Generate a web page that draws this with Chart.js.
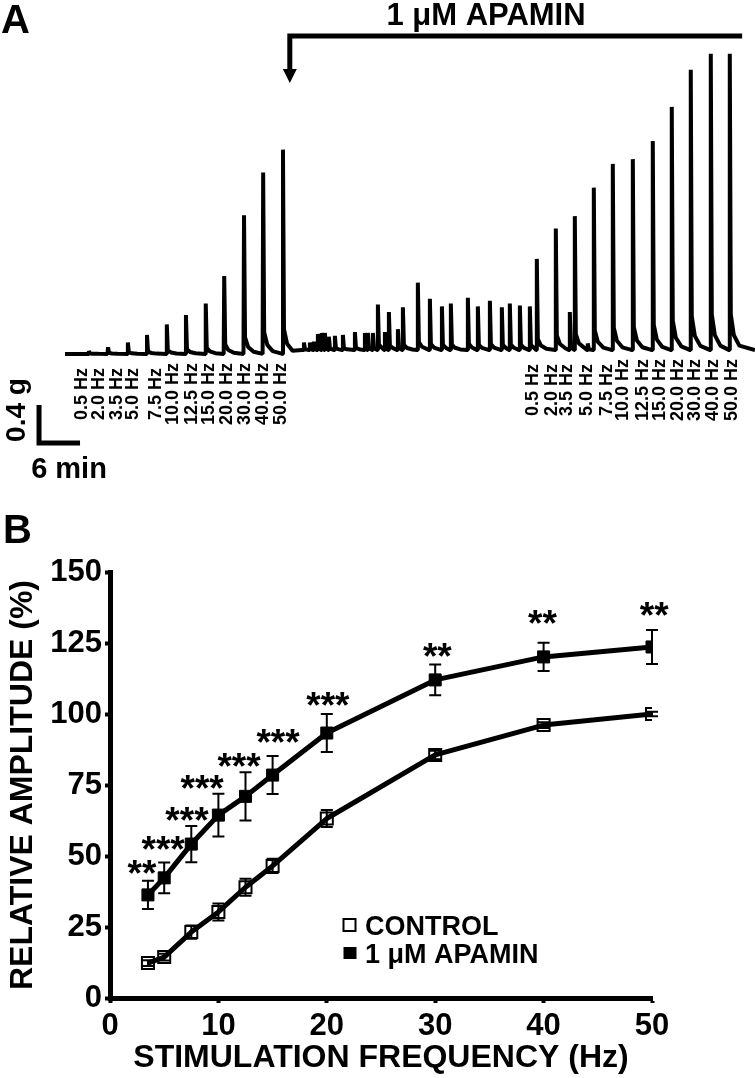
<!DOCTYPE html>
<html>
<head>
<meta charset="utf-8">
<script src="https://cdn.jsdelivr.net/npm/chart.js@4.4.1/dist/chart.umd.min.js"></script>
<style>
  html, body { margin: 0; padding: 0; background: #fff; }
  #wrap { position: relative; width: 755px; height: 1078px; }
  #traceChart { position: absolute; left: 0; top: 0; }
  #freqChart { position: absolute; left: 0; top: 480px; }
</style>
</head>
<body>
<div id="wrap">
  <canvas id="traceChart" width="755" height="480"></canvas>
  <canvas id="freqChart" width="755" height="598"></canvas>
</div>
<script>
// ---- panel A : isometric force trace (time in min, force in g) ----
var controlPeakTime = [3.5, 6.3, 9.2, 12.0, 14.9, 17.7, 20.6, 23.3, 26.2, 29.0, 31.9];
var controlPeakAmp  = [0.03, 0.07, 0.12, 0.20, 0.31, 0.41, 0.53, 0.82, 1.46, 1.91, 2.15];
var apaminPeakTime = [34.97, 35.84, 36.43, 37.01, 37.6, 38.04, 38.62, 39.5, 40.67, 42.43,
                      43.89, 44.33, 45.06, 45.79, 46.82, 47.4, 48.72, 49.45, 51.64, 53.4,
                      55.16, 56.47, 58.96, 60.42, 62.18, 63.93, 65.1, 66.57, 68.03, 69.05,
                      71.83, 73.88, 74.61, 76.51, 77.39, 80.17, 83.1, 86.02, 88.8, 91.58,
                      94.51, 97.29];
var apaminPeakAmp  = [0.08, 0.08, 0.09, 0.17, 0.18, 0.18, 0.14, 0.15, 0.16, 0.19,
                      0.18, 0.18, 0.18, 0.48, 0.19, 0.40, 0.22, 0.45, 0.71, 0.54,
                      0.46, 0.49, 0.55, 0.46, 0.52, 0.45, 0.49, 0.47, 0.46, 0.96,
                      1.28, 0.40, 1.41, 0.07, 1.71, 1.96, 2.01, 2.20, 2.56, 2.95,
                      3.12, 3.12];
var controlBase = -0.02;
var apaminBase = 0.02;
var traceEnd = 100.98;
var apaminOn = 32.9;
var apaminOff = 99.1;
var freqLabels = ['0.5 Hz', '2.0 Hz', '3.5 Hz', '5.0 Hz', '7.5 Hz', '10.0 Hz',
                  '12.5 Hz', '15.0 Hz', '20.0 Hz', '30.0 Hz', '40.0 Hz', '50.0 Hz'];
var controlLabelTime = [2.49, 4.98, 7.61, 9.95, 13.32, 15.8, 18.59, 21.07, 23.71, 26.34, 28.98, 31.61];
var apaminLabelTime  = [68.49, 71.27, 73.46, 76.39, 79.32, 81.66, 84.59, 87.07, 89.71, 92.2, 94.83, 97.61];
var barTime = 6;    // min
var barForce = 0.4; // g

// ---- panel B : frequency-response curves ----
var freqHz      = [3.5, 5, 7.5, 10, 12.5, 15, 20, 30, 40, 50];
var controlMean = [12.3, 14.4, 23.2, 30.3, 39.0, 46.5, 63.2, 85.6, 96.1, 100];
var controlSem  = [1.0, 1.2, 2.3, 3.0, 3.0, 2.5, 3.0, 1.5, 1.0, 0.8];
var apaminMean  = [36.3, 42.3, 54.2, 64.4, 71.0, 78.5, 93.3, 112.0, 120.1, 123.6];
var apaminSem   = [5.0, 5.4, 6.4, 7.5, 8.5, 6.7, 6.7, 5.4, 5.0, 6.0];
var sigText = ['**', '***', '***', '***', '***', '***', '***', '**', '**', '**'];
var sigX    = [2.95, 4.9, 7.1, 8.5, 11.9, 15.5, 20.1, 30.2, 39.9, 50.2];
var sigY    = [46.8, 55.3, 65.5, 76.8, 84.5, 93.0, 106.0, 123.2, 134.9, 137.7];

var FONT = '"Liberation Sans", Arial, Helvetica, sans-serif';
Chart.defaults.font.family = FONT;
Chart.defaults.color = '#000';

// build the trace vertices from the peak list
function addPeaks(pts, times, amps, base, nextStart) {
  for (var i = 0; i < times.length; i++) {
    var t = times[i], h = amps[i];
    var next = i < times.length - 1 ? times[i + 1] : nextStart;
    pts.push({x: t - 0.08, y: base});
    pts.push({x: t, y: base + h});
    pts.push({x: t + 0.15, y: base + 0.12 * h});
    if (next - t > 1.0) pts.push({x: t + 0.6, y: base + 0.05 * h});
    if (next - t > 2.0) pts.push({x: t + 1.4, y: base + 0.015 * h});
  }
}
var tracePoints = [{x: 0, y: controlBase}];
addPeaks(tracePoints, controlPeakTime, controlPeakAmp, controlBase, apaminPeakTime[0]);
tracePoints.push({x: apaminPeakTime[0] - 0.3, y: apaminBase});
addPeaks(tracePoints, apaminPeakTime, apaminPeakAmp, apaminBase, traceEnd);
tracePoints.push({x: traceEnd, y: apaminBase});

var traceDecor = {
  id: 'traceDecor',
  afterDraw: function(chart) {
    var ctx = chart.ctx, xs = chart.scales.x, ys = chart.scales.y;
    ctx.save();
    ctx.fillStyle = '#000';
    ctx.strokeStyle = '#000';

    ctx.font = 'bold 40px ' + FONT;
    ctx.textAlign = 'left';
    ctx.textBaseline = 'alphabetic';
    ctx.fillText('A', 1, 33);

    // apamin bracket and arrow
    var x0 = xs.getPixelForValue(apaminOn), x1 = xs.getPixelForValue(apaminOff);
    ctx.lineWidth = 5;
    ctx.lineJoin = 'miter';
    ctx.beginPath();
    ctx.moveTo(x0, 71);
    ctx.lineTo(x0, 36);
    ctx.lineTo(x1, 36);
    ctx.stroke();
    ctx.beginPath();
    ctx.moveTo(x0 - 7, 69);
    ctx.lineTo(x0 + 7, 69);
    ctx.lineTo(x0, 83);
    ctx.closePath();
    ctx.fill();
    ctx.font = 'bold 31px ' + FONT;
    ctx.textAlign = 'center';
    ctx.fillText('1 \u03BCM APAMIN', 486, 25);

    // stimulation frequency labels
    ctx.font = 'bold 18px ' + FONT;
    ctx.textAlign = 'center';
    ctx.textBaseline = 'middle';
    function labels(times, yc) {
      for (var i = 0; i < times.length; i++) {
        ctx.save();
        ctx.translate(xs.getPixelForValue(times[i]), yc);
        ctx.rotate(-Math.PI / 2);
        ctx.fillText(freqLabels[i], 0, 0);
        ctx.restore();
      }
    }
    labels(controlLabelTime, 394);
    labels(apaminLabelTime, 390);

    // scale bar
    var cx = xs.getPixelForValue(-3.8), cy = ys.getPixelForValue(-0.958);
    var bx = xs.getPixelForValue(-3.8 + barTime), by = ys.getPixelForValue(-0.958 + barForce);
    ctx.lineWidth = 5;
    ctx.beginPath();
    ctx.moveTo(cx, by);
    ctx.lineTo(cx, cy);
    ctx.lineTo(bx, cy);
    ctx.stroke();
    ctx.font = 'bold 29px ' + FONT;
    ctx.textAlign = 'center';
    ctx.textBaseline = 'alphabetic';
    ctx.fillText('6 min', 69, 478);
    ctx.save();
    ctx.translate(25, 410);
    ctx.rotate(-Math.PI / 2);
    ctx.font = 'bold 28px ' + FONT;
    ctx.fillText('0.4 g', 0, 0);
    ctx.restore();
    ctx.restore();
  }
};

new Chart(document.getElementById('traceChart'), {
  type: 'line',
  data: {
    datasets: [{
      data: tracePoints,
      borderColor: '#000',
      borderWidth: 4,
      borderJoinStyle: 'bevel',
      pointRadius: 0,
      tension: 0,
      fill: false
    }]
  },
  options: {
    responsive: false,
    animation: false,
    layout: { padding: { left: 65, right: 0, top: 0, bottom: 118.5 } },
    scales: {
      x: { type: 'linear', display: false, min: 0, max: traceEnd },
      y: { display: false, min: -0.1, max: 3.705 }
    },
    plugins: { legend: { display: false }, tooltip: { enabled: false } }
  },
  plugins: [traceDecor]
});

// error bars under the markers
var errorBars = {
  id: 'errorBars',
  beforeDatasetsDraw: function(chart) {
    var ctx = chart.ctx, xs = chart.scales.x, ys = chart.scales.y;
    ctx.save();
    ctx.strokeStyle = '#000';
    ctx.lineWidth = 2;
    [[controlMean, controlSem], [apaminMean, apaminSem]].forEach(function(s) {
      freqHz.forEach(function(f, i) {
        var x = xs.getPixelForValue(f);
        var yt = ys.getPixelForValue(s[0][i] + s[1][i]);
        var yb = ys.getPixelForValue(s[0][i] - s[1][i]);
        ctx.beginPath();
        ctx.moveTo(x, yt); ctx.lineTo(x, yb);
        ctx.moveTo(x - 6, yt); ctx.lineTo(x + 6, yt);
        ctx.moveTo(x - 6, yb); ctx.lineTo(x + 6, yb);
        ctx.stroke();
      });
    });
    ctx.restore();
  },
  afterDraw: function(chart) {
    var ctx = chart.ctx, xs = chart.scales.x, ys = chart.scales.y;
    ctx.save();
    ctx.fillStyle = '#000';
    ctx.strokeStyle = '#000';
    ctx.font = 'bold 40px ' + FONT;
    ctx.textAlign = 'left';
    ctx.textBaseline = 'alphabetic';
    ctx.fillText('B', 3, 63);

    // significance stars
    ctx.font = 'bold 37px ' + FONT;
    ctx.textAlign = 'center';
    sigText.forEach(function(t, i) {
      ctx.fillText(t, xs.getPixelForValue(sigX[i]), ys.getPixelForValue(sigY[i]) + 21);
    });

    // legend
    ctx.lineWidth = 2;
    ctx.strokeRect(343.5, 439, 12, 12);
    ctx.fillRect(343.5, 467, 13, 12);
    ctx.font = 'bold 27px ' + FONT;
    ctx.textAlign = 'left';
    ctx.fillText('CONTROL', 365, 455);
    ctx.fillText('1 \u03BCM APAMIN', 365, 483);
    ctx.restore();
  }
};

new Chart(document.getElementById('freqChart'), {
  type: 'line',
  data: {
    datasets: [{
      label: 'CONTROL',
      data: freqHz.map(function(f, i) { return {x: f, y: controlMean[i]}; }),
      borderColor: '#000',
      borderWidth: 5,
      borderJoinStyle: 'round',
      pointStyle: 'rect',
      pointRadius: 8.5,
      pointBorderWidth: 2,
      pointBorderColor: '#000',
      pointBackgroundColor: 'rgba(255,255,255,0)',
      tension: 0
    }, {
      label: '1 \u03BCM APAMIN',
      data: freqHz.map(function(f, i) { return {x: f, y: apaminMean[i]}; }),
      borderColor: '#000',
      borderWidth: 5,
      borderJoinStyle: 'round',
      pointStyle: 'rect',
      pointRadius: 8.5,
      pointBorderWidth: 1,
      pointBorderColor: '#000',
      pointBackgroundColor: '#000',
      tension: 0
    }]
  },
  options: {
    responsive: false,
    animation: false,
    layout: { padding: { left: 0, right: 103, top: 92, bottom: 0 } },
    scales: {
      x: {
        type: 'linear', min: 0, max: 50,
        ticks: { stepSize: 10, padding: 5, font: { size: 31, weight: 'bold' }, color: '#000' },
        grid: { drawOnChartArea: false, color: '#000', tickLength: 5, tickWidth: 4 },
        border: { color: '#000', width: 5 },
        title: { display: true, text: 'STIMULATION FREQUENCY (Hz)', color: '#000',
                 font: { size: 32, weight: 'bold' }, padding: { top: 0, bottom: 1 } },
        afterFit: function(s) { s.height = 80; }
      },
      y: {
        min: 0, max: 150,
        ticks: { stepSize: 25, padding: 3, font: { size: 31, weight: 'bold' }, color: '#000' },
        grid: { drawOnChartArea: false, color: '#000', tickLength: 5, tickWidth: 4 },
        border: { color: '#000', width: 5 },
        title: { display: true, text: 'RELATIVE AMPLITUDE (%)', color: '#000',
                 font: { size: 32, weight: 'bold' }, padding: { top: 4, bottom: 0 } },
        afterFit: function(s) { s.width = 110; }
      }
    },
    plugins: { legend: { display: false }, tooltip: { enabled: false } }
  },
  plugins: [errorBars]
});
</script>
</body>
</html>
